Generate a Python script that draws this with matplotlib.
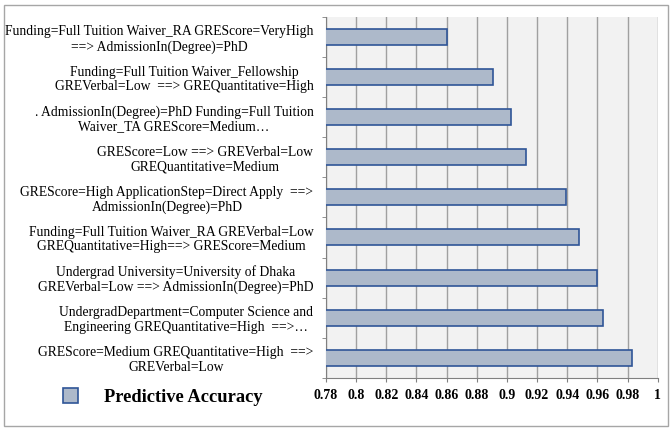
import matplotlib.pyplot as plt
import matplotlib.patches as mpatches
import numpy as np

# rules, top to bottom as drawn
rules = [
    'Funding=Full Tuition Waiver_RA GREScore=VeryHigh\n==> AdmissionIn(Degree)=PhD',
    'Funding=Full Tuition Waiver_Fellowship\nGREVerbal=Low  ==> GREQuantitative=High',
    '. AdmissionIn(Degree)=PhD Funding=Full Tuition\nWaiver_TA GREScore=Medium\u2026',
    'GREScore=Low ==> GREVerbal=Low\nGREQuantitative=Medium',
    'GREScore=High ApplicationStep=Direct Apply  ==>\nAdmissionIn(Degree)=PhD',
    'Funding=Full Tuition Waiver_RA GREVerbal=Low\nGREQuantitative=High==> GREScore=Medium',
    'Undergrad University=University of Dhaka\nGREVerbal=Low ==> AdmissionIn(Degree)=PhD',
    'UndergradDepartment=Computer Science and\nEngineering GREQuantitative=High  ==>\u2026',
    'GREScore=Medium GREQuantitative=High  ==>\nGREVerbal=Low',
]
accuracy = [0.860, 0.891, 0.9025, 0.9127, 0.939, 0.948, 0.9597, 0.964, 0.983]
xticks = [0.78, 0.8, 0.82, 0.84, 0.86, 0.88, 0.9, 0.92, 0.94, 0.96, 0.98, 1]

plt.rcParams['font.family'] = ['Liberation Serif', 'DejaVu Serif']

fig = plt.figure(figsize=(6.71, 4.28), dpi=100)
ax = fig.add_axes([0.4858, 0.1175, 0.4945, 0.8425])
ax.set_facecolor('#f2f2f2')

y = np.arange(len(rules))
bars = ax.barh(y, accuracy, height=0.4, left=0, color='#adb9ca',
               edgecolor='#2f5597', linewidth=1.2, zorder=3)

ax.set_xlim(0.78, 1.0)
ax.set_ylim(len(rules) - 0.5, -0.5)
ax.set_xticks(xticks)
ax.set_xticklabels([f'{t:g}' for t in xticks], fontsize=10, fontweight='bold')
ax.set_yticks(y)
ax.set_yticklabels(rules, fontsize=9.8, multialignment='center', linespacing=1.15)
ax.tick_params(axis='y', length=0, pad=9)
ax.set_yticks(np.arange(-0.5, len(rules), 1), minor=True)
ax.tick_params(axis='y', which='minor', length=3, color='#808080')
ax.tick_params(axis='x', length=3, color='#808080', pad=5)

ax.grid(axis='x', color='#a0a0a0', linewidth=1, zorder=0)
ax.set_axisbelow(True)
for side in ['top', 'right']:
    ax.spines[side].set_visible(False)
for side in ['left', 'bottom']:
    ax.spines[side].set_color('#808080')

# outer border
fig.patches.append(mpatches.Rectangle((0.006, 0.005), 0.989, 0.984, transform=fig.transFigure,
                                      fill=False, edgecolor='#a6a6a6', linewidth=1))

fig.legend([bars], ['Predictive Accuracy'], loc='center', bbox_to_anchor=(0.243, 0.072),
           frameon=False, prop={'weight': 'bold', 'size': 13.3},
           handlelength=0.8, handleheight=0.8, handletextpad=1.4)

fig.savefig('out.png', dpi=100)
